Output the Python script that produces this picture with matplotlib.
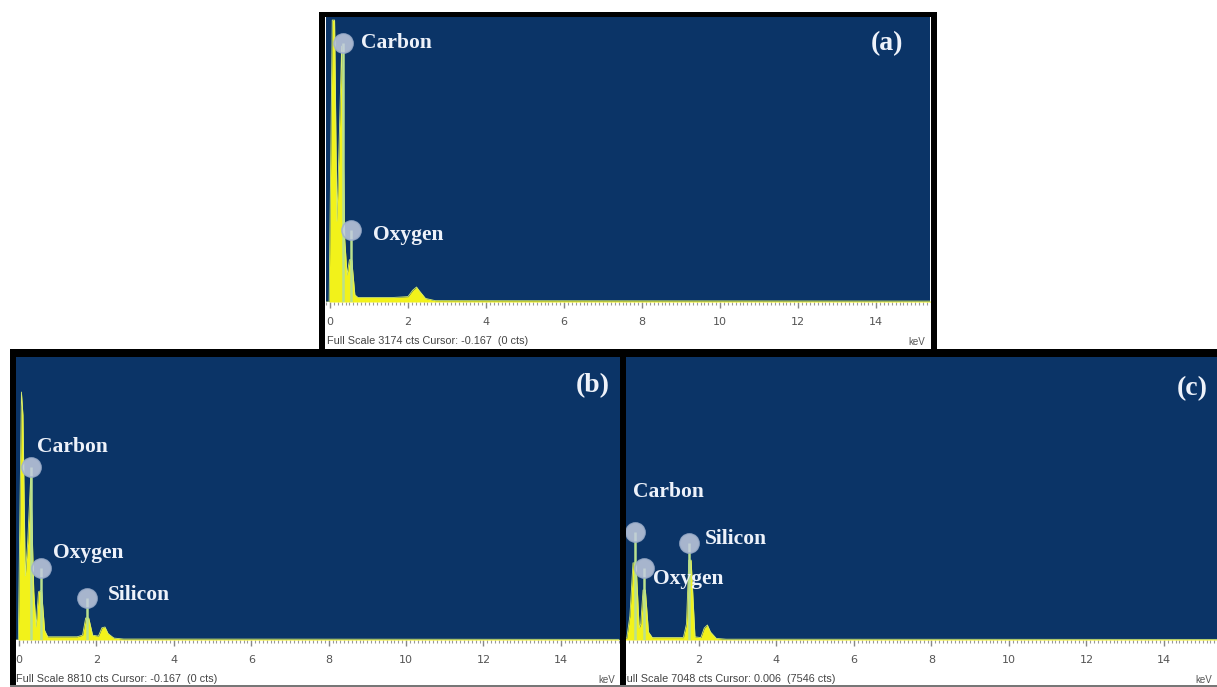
import matplotlib
matplotlib.use("Agg")
import matplotlib.pyplot as plt
from matplotlib.patches import Rectangle
from matplotlib.ticker import MultipleLocator

W, H = 1217, 687

# spectrum outlines (keV, counts)
a_energy = [-0.1, -0.02, 0.06, 0.12, 0.18, 0.22, 0.3, 0.38, 0.44, 0.5, 0.56, 0.64, 0.72,
            1.6, 2.0, 2.12, 2.22, 2.3, 2.45, 2.7, 15.5]
a_counts = [0, 0, 3140, 3140, 900, 1500, 2850, 700, 300, 470, 470, 80, 50,
            50, 60, 130, 167, 120, 40, 15, 10]

b_energy = [-0.1, -0.02, 0.06, 0.1, 0.16, 0.22, 0.3, 0.38, 0.44, 0.5, 0.58, 0.66, 0.74,
            1.5, 1.64, 1.72, 1.8, 1.9, 2.05, 2.14, 2.22, 2.3, 2.45, 2.7, 15.5]
b_counts = [0, 0, 7720, 7000, 2000, 3000, 5100, 1500, 400, 1500, 1550, 300, 100,
            100, 150, 685, 685, 150, 120, 380, 405, 200, 60, 30, 20]

c_energy = [0.0, 0.14, 0.22, 0.3, 0.38, 0.46, 0.5, 0.56, 0.62, 0.7, 0.8, 1.6, 1.68, 1.74,
            1.8, 1.9, 2.05, 2.14, 2.22, 2.3, 2.45, 2.7, 15.5]
c_counts = [0, 50, 600, 1920, 1920, 300, 400, 1245, 1245, 200, 60, 60, 400, 1990,
            1990, 80, 60, 300, 374, 200, 40, 20, 15]

# element markers
a_elements = ["Carbon", "Oxygen"]
a_el_energy = [0.33, 0.54]
a_el_counts = [2884, 802]

b_elements = ["Carbon", "Oxygen", "Silicon"]
b_el_energy = [0.31, 0.57, 1.76]
b_el_counts = [5386, 2241, 1307]

c_elements = ["Carbon", "Oxygen", "Silicon"]
c_el_energy = [0.35, 0.58, 1.74]
c_el_counts = [2690, 1793, 2416]

full_scale = [3174, 8810, 7048]
status_text = ["Full Scale 3174 cts Cursor: -0.167  (0 cts)",
               "Full Scale 8810 cts Cursor: -0.167  (0 cts)",
               "Full Scale 7048 cts Cursor: 0.006  (7546 cts)"]
panel_tags = ["(a)", "(b)", "(c)"]
xticks = [0, 2, 4, 6, 8, 10, 12, 14]

BLUE = "#0b3467"
YELLOW = "#f2f21a"
PALE = "#b9e08e"
SERIF = ["Liberation Serif", "DejaVu Serif"]

fig = plt.figure(figsize=(W / 100, H / 100), dpi=100)
fig.patch.set_facecolor("white")


def px_rect(x0, y0, x1, y1):
    # pixel box (top-left origin) -> figure fraction rect
    return [x0 / W, (H - y1) / H, (x1 - x0) / W, (y1 - y0) / H]


def black_strip(x0, y0, x1, y1, color="black"):
    l, b, w, h = px_rect(x0, y0, x1, y1)
    fig.add_artist(Rectangle((l, b), w, h, transform=fig.transFigure,
                             facecolor=color, edgecolor="none", zorder=10))


def draw_panel(rect, xlim, energy, counts, names, el_e, el_c, offsets, fs, status, tag,
               tag_xy, status_dx):
    ax = fig.add_axes(px_rect(*rect))
    ax.set_facecolor(BLUE)
    ax.fill_between(energy, counts, 0, color=YELLOW, lw=0, zorder=2)
    ax.plot(energy, counts, color="#d8ee70", lw=0.6, zorder=3)
    ax.vlines(el_e, 0, el_c, color=PALE, lw=1.8, zorder=4)
    ax.scatter(el_e, el_c, s=190, color="#c3cde0", edgecolors="#9fb0cc", linewidths=1.2,
               alpha=0.85, zorder=5)
    for name, e, c, off in zip(names, el_e, el_c, offsets):
        ax.annotate(name, (e, c), xytext=off, textcoords="offset pixels",
                    color="#eef2fa", fontsize=15.5, fontweight="bold", family=SERIF,
                    ha="left", va="center", zorder=6)
    ax.text(tag_xy[0], tag_xy[1], tag, transform=ax.transAxes, color="#eef2fa",
            fontsize=20, fontweight="bold", family=SERIF, ha="center", va="center")
    ax.set_xlim(*xlim)
    ax.set_ylim(0, fs)
    ax.set_yticks([])
    ax.set_xticks([t for t in xticks if xlim[0] <= t <= xlim[1]])
    ax.xaxis.set_minor_locator(MultipleLocator(0.1))
    ax.tick_params(axis="x", which="major", length=4, width=1, color="#888888",
                   labelsize=8, labelcolor="#555555", pad=7)
    ax.tick_params(axis="x", which="minor", length=2, width=0.8, color="#999999")
    for s in ax.spines.values():
        s.set_visible(False)
    x0, y0, x1, y1 = rect
    fig.text((x0 + status_dx) / W, 1 - (y1 + 39) / H, status, fontsize=7.8,
             color="#444444", family=["Liberation Sans", "DejaVu Sans"], va="center")
    fig.text((x1 - 22) / W, 1 - (y1 + 40) / H, "keV", fontsize=7,
             color="#555555", family=["Liberation Sans", "DejaVu Sans"], va="center")
    return ax


draw_panel((326, 17, 930, 302), (-0.1, 15.38), a_energy, a_counts, a_elements,
           a_el_energy, a_el_counts, [(18, 0), (22, -5)], full_scale[0], status_text[0],
           panel_tags[0], (0.928, 0.905), 1)
draw_panel((16, 357, 620, 640), (-0.08, 15.53), b_energy, b_counts, b_elements,
           b_el_energy, b_el_counts, [(6, 20), (12, 15), (21, 3)], full_scale[1],
           status_text[1], panel_tags[1], (0.955, 0.9), 0)
draw_panel((626, 357, 1217, 640), (0.12, 15.37), c_energy, c_counts, c_elements,
           c_el_energy, c_el_counts, [(-2, 40), (9, -11), (16, 4)], full_scale[2],
           status_text[2], panel_tags[2], (0.958, 0.89), -6)

# black frames
black_strip(319, 12, 937, 17)
black_strip(319, 12, 325, 351)
black_strip(931, 12, 937, 351)
black_strip(10, 349, 1217, 357)
black_strip(10, 349, 16, 687)
black_strip(620, 349, 626, 687)
black_strip(10, 685, 1217, 687, color="#777777")

fig.savefig("out.png", dpi=100)
